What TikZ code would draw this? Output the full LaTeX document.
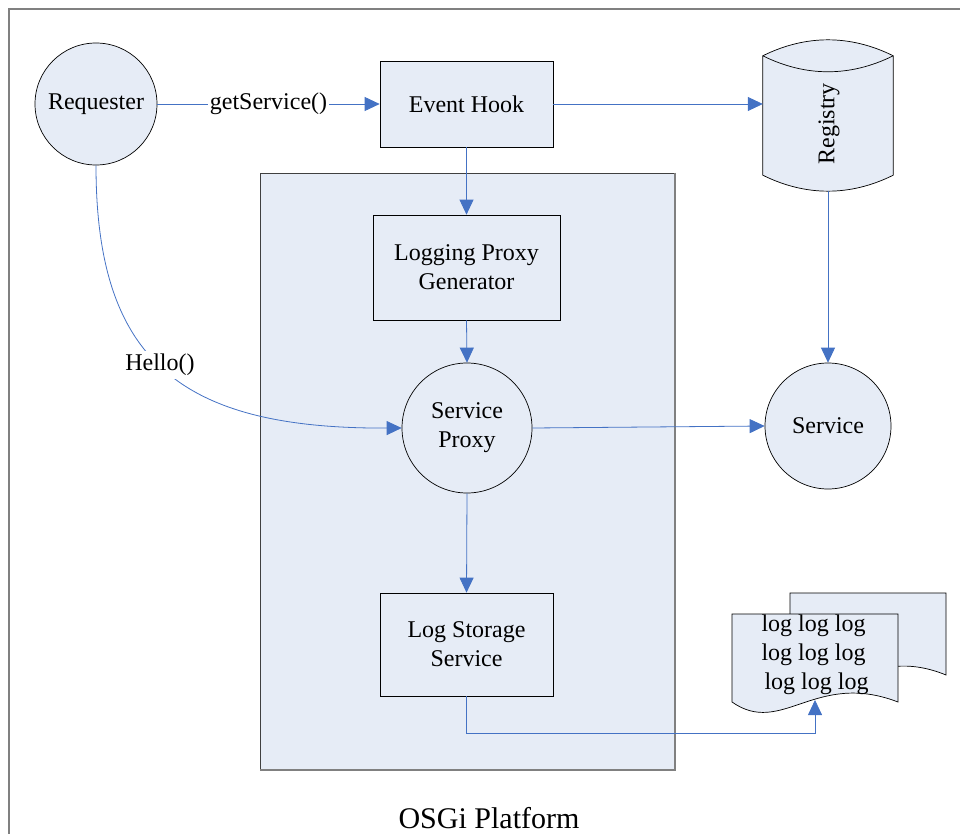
\documentclass[tikz,border=0pt]{standalone}
\usepackage{fontspec}
\setmainfont{Liberation Serif}
\usetikzlibrary{arrows.meta}
\definecolor{boxfill}{RGB}{230,236,246}
\definecolor{arrowblue}{RGB}{68,114,196}
\definecolor{framegray}{RGB}{128,128,128}
\begin{document}
\begin{tikzpicture}[x=1pt,y=-1pt,
  every node/.style={font=\fontsize{24}{29}\selectfont},
  shapeline/.style={draw=black,line width=0.7pt,fill=boxfill},
  boxnode/.style={shapeline,rectangle,inner sep=0pt,align=center},
  circnode/.style={shapeline,circle,inner sep=0pt,align=center},
  conn/.style={draw=arrowblue,line width=0.8pt},
  arr/.style={conn,-{Triangle[length=15pt,width=14pt]}}]
\useasboundingbox (0,0) rectangle (960,834);
% outer frame
\draw[framegray,line width=2pt] (9,845) -- (9,9) -- (970,9);
% platform
\node[draw=black!75,line width=0.7pt,fill=boxfill,minimum width=415pt,minimum height=597pt,inner sep=0pt] (plat) at (467.5,471.5) {};
\draw[framegray,line width=1.8pt] (plat.north east) -- (plat.south east) -- (plat.south west);
\node[font=\fontsize{30}{36}\selectfont] (platlabel) at (489,818) {OSGi Platform};
% nodes
\node[circnode,minimum size=122pt] (req) at (96,104) {Requester};
\node[boxnode,minimum width=173pt,minimum height=86pt] (eh) at (466.5,104) {Event Hook};
\node[boxnode,minimum width=187pt,minimum height=105pt] (lpg) at (466.5,267.5) {Logging Proxy\\Generator};
\node[circnode,minimum size=130pt] (sp) at (467,428) {Service\\Proxy};
\node[circnode,minimum size=126pt] (svc) at (828,426) {Service};
\node[boxnode,minimum width=173pt,minimum height=103pt] (lss) at (466.5,644.5) {Log Storage\\Service};
% registry cylinder
\node[inner sep=0pt,minimum width=130pt,minimum height=119pt] (reg) at (828,115.5) {};
\filldraw[shapeline] (reg.north west) .. controls +(43,-21.3) and +(-43,-21.3) .. (reg.north east)
  -- (reg.south east) .. controls +(-43,21.3) and +(43,21.3) .. (reg.south west) -- cycle;
\draw[black,line width=0.7pt] (reg.north west) .. controls +(43,21.3) and +(-43,21.3) .. (reg.north east);
\node[rotate=90] (regtext) at (829,124) {Registry};
\coordinate (regbot) at (828,191);
% documents
\filldraw[shapeline] (790,593) -- (946,593) -- (946,675) .. controls (868,643) and (836.8,710) .. (790,675) -- cycle;
\filldraw[shapeline] (732,614) -- (898,614) -- (898,702) .. controls (815,670) and (781.8,737) .. (732,702) -- cycle;
\node[align=left,inner sep=0pt] (logs) at (815,655) {log log log\\log log log\\\hspace*{3pt}log log log};
\coordinate (docb) at (815,700);
% connectors
\draw[arr] (req.east) -- node[midway,fill=white,inner sep=2pt] (gs) {getService()} (eh.west);
\draw[arr] (eh.east) -- (eh.east -| reg.west);
\draw[arr] (eh.south) -- (lpg.north);
\draw[arr] (lpg.south) -- (sp.north);
\draw[arr] (regbot) -- (svc.north);
\draw[arr] (sp.east) -- (svc.west);
\draw[arr] (sp.south) -- (lss.north);
\draw[arr] (req.south) .. controls (96,360) and (180,429) .. node[pos=0.48,fill=white,inner sep=3pt] (hello) {Hello()} (sp.west);
\draw[arr] (lss.south) -- ++(0,37) -| (docb);
\end{tikzpicture}
\end{document}
